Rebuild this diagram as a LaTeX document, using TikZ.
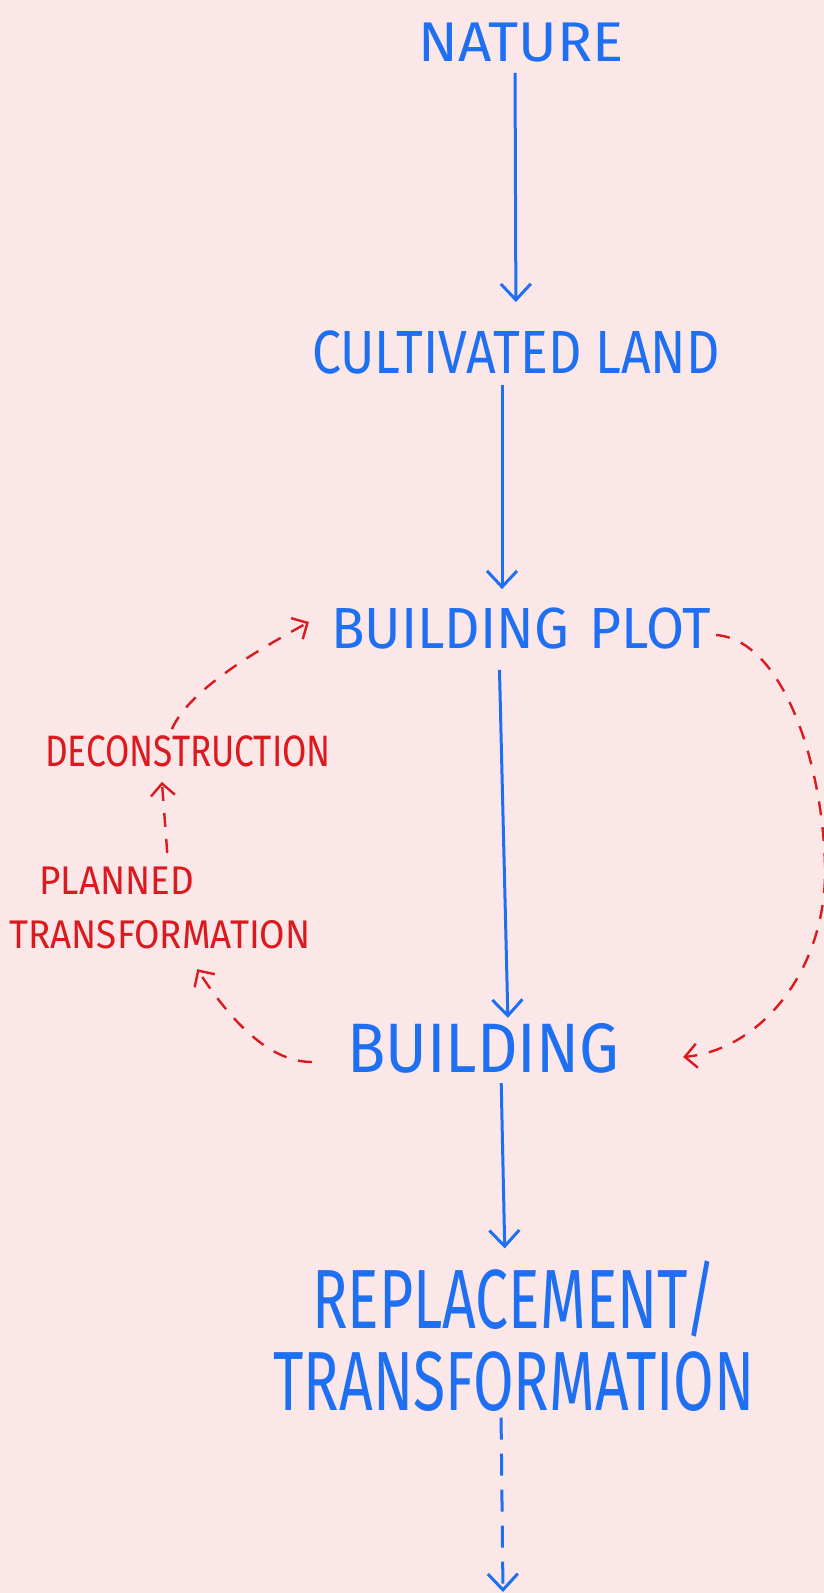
\documentclass[tikz,border=0pt]{standalone}
\usepackage{fontspec}
\setmainfont{Fira Sans}
\usepackage{tikz}
\usetikzlibrary{arrows.meta,positioning}

\definecolor{paper}{HTML}{FBE7E7}
\definecolor{ink}{HTML}{1F6FF2}
\definecolor{redink}{HTML}{DA1A1F}

% size, leading, horizontal stretch
\newcommand{\inkfont}[3]{\fontsize{#1}{#2}\selectfont\addfontfeatures{FakeStretch=#3}}

\tikzset{
  stage/.style={text=ink, inner sep=0pt},
  note/.style={text=redink, inner sep=0pt},
  flow/.style={->, draw=ink, line width=3pt},
  flowdash/.style={flow, dash pattern=on 22pt off 14pt},
  loop/.style={-{Straight Barb[length=12pt,width=24pt]}, draw=redink, line width=2.4pt, dash pattern=on 14pt off 12pt},
  >={Straight Barb[length=16pt,width=30pt]}
}

\begin{document}
\begin{tikzpicture}[x=1pt,y=-1pt]

  \fill[paper] (0,0) rectangle (824,1593);
  \useasboundingbox (0,0) rectangle (824,1593);

  % main chain
  \node[stage, font=\inkfont{56}{60}{1.04}] (nature) at (521,43) {NATURE};
  \node[stage, font=\inkfont{61}{66}{0.85}] (land) at (516,352) {CULTIVATED LAND};
  \node[stage, font=\inkfont{58}{62}{0.95}] (plot) at (521,629) {BUILDING\hspace{0.35em}PLOT};
  \node[stage, font=\inkfont{70}{76}{0.9}] (building) at (483,1048) {BUILDING};
  \node[stage, align=center, font=\inkfont{84}{82}{0.7}] (replace) at (514,1336) {REPLACEMENT/\\TRANSFORMATION};
  \coordinate (sink) at (503,1592);

  % red side notes
  \node[note, font=\inkfont{44}{48}{0.8}] (decon) at (188,751) {DECONSTRUCTION};
  \node[note, align=left, font=\inkfont{40}{54}{0.92}] (planned) at (160,908) {\hspace*{0.75em}PLANNED\\TRANSFORMATION};

  \draw[flow, shorten <=10pt, shorten >=28pt] ([xshift=-6pt]nature.south) -- (land.north);
  \draw[flow, shorten <=11pt, shorten >=19pt] ([xshift=-14pt]land.south) -- ([xshift=-19pt]plot.north);
  \draw[flow, shorten <=20pt, shorten >=5pt] ([xshift=-22pt]plot.south) -- ([xshift=25pt]building.north);
  \draw[flow, shorten <=10pt, shorten >=12pt] ([xshift=18pt]building.south) -- ([xshift=-9pt]replace.north);
  \draw[flowdash, shorten <=6pt] ([xshift=-13pt]replace.south) -- (sink);

  % the loop back through deconstruction
  \draw[loop] ([xshift=127pt,yshift=6pt]decon.north west)
    .. controls (190,688) and (262,648) .. ([xshift=-22pt,yshift=7pt]plot.west);
  \draw[loop] ([xshift=158pt,yshift=14pt]planned.north west) -- ([xshift=117pt,yshift=-15pt]decon.south west);
  \draw[loop] ([xshift=-35pt,yshift=-14pt]building.west)
    .. controls (265,1062) and (225,1012) .. ([xshift=188pt,yshift=-20pt]planned.south west);
  \draw[loop] ([xshift=5pt,yshift=-6pt]plot.east)
    .. controls (782,640) and (822,760) .. (825,864)
    .. controls (828,970) and (760,1050) .. ([xshift=64pt,yshift=-9pt]building.east);

\end{tikzpicture}
\end{document}
